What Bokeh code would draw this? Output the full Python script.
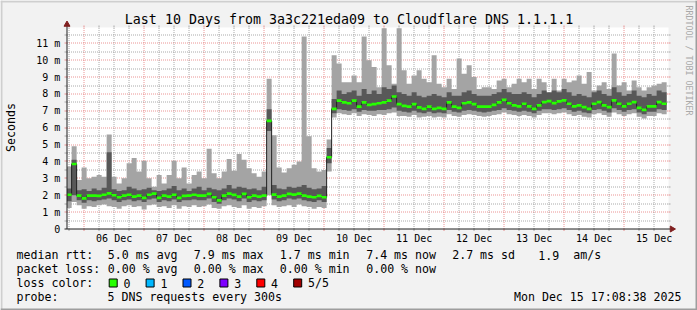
import numpy as np
from bokeh.plotting import figure
from bokeh.models import Range1d
from bokeh.core.properties import value
from bokeh.embed import file_html
from bokeh.resources import INLINE

# ---------------- data (milliseconds) ----------------
# 2-hour consolidated smokeping bins, first bin starts Dec 5 17:00
rtt_max = [
    3.7, 4.9, 2.9, 3.65, 3.0, 3.1, 3.2, 3.1, 5.6, 3.1,
    2.7, 3.0, 3.9, 4.2, 3.4, 4.05, 3.0, 2.5, 3.2, 2.7,
    3.2, 4.05, 3.0, 3.65, 2.7, 3.2, 3.4, 3.0, 4.75, 3.3,
    3.0, 3.4, 4.15, 3.45, 4.45, 4.1, 3.6, 3.3, 3.1, 3.4,
    8.9, 5.55, 3.65, 3.35, 3.6, 3.8, 4.0, 11.4, 5.5, 3.6,
    3.4, 3.5, 5.3, 10.3, 9.8, 8.7, 8.7, 9.1, 8.7, 11.4,
    10.0, 9.6, 8.4, 11.9, 9.7, 8.6, 11.9, 9.4, 8.6, 9.1,
    9.4, 8.9, 8.7, 10.3, 8.6, 8.4, 8.9, 8.3, 10.1, 9.2,
    9.7, 9.0, 8.3, 8.4, 8.4, 8.3, 8.8, 8.9, 8.4, 8.6,
    8.9, 8.7, 8.9, 8.3, 8.9, 8.7, 8.0, 8.9, 8.2, 8.9,
    8.7, 8.8, 9.1, 8.6, 9.3, 8.2, 8.5, 8.7, 8.3, 10.4,
    8.5, 8.7, 8.2, 8.8, 8.4, 8.2, 8.4, 8.5, 8.6, 8.7,
]
rtt_p4 = [
    2.4, 4.1, 2.3, 2.35, 2.25, 2.4, 2.3, 2.45, 4.55, 2.35,
    2.25, 2.3, 2.5, 2.4, 2.3, 2.35, 2.45, 2.3, 2.25, 2.3,
    2.4, 2.55, 2.3, 2.4, 2.25, 2.4, 2.5, 2.3, 2.45, 2.35,
    2.3, 2.4, 2.6, 2.4, 2.5, 2.45, 2.35, 2.4, 2.3, 2.5,
    7.1, 2.6, 2.4, 2.35, 2.5, 2.45, 2.5, 2.6, 2.45, 2.35,
    2.4, 2.55, 4.8, 7.7, 8.2, 8.0, 8.1, 8.2, 7.9, 8.3,
    8.0, 8.2, 8.0, 8.4, 8.3, 8.5, 8.1, 8.0, 7.9, 8.1,
    7.9, 7.8, 7.9, 8.0, 7.9, 7.8, 8.1, 7.9, 7.9, 8.1,
    8.2, 8.0, 7.9, 7.9, 7.9, 8.0, 8.1, 8.3, 8.1, 8.0,
    8.0, 8.1, 8.0, 7.8, 8.0, 8.2, 8.1, 8.2, 8.1, 8.3,
    8.1, 7.9, 8.0, 7.9, 7.8, 8.1, 8.2, 8.0, 7.9, 8.4,
    8.1, 7.9, 8.0, 8.2, 7.9, 7.8, 8.0, 7.9, 8.2, 8.1,
]
rtt_median = [
    2.03, 3.85, 1.98, 1.82, 1.98, 1.98, 1.96, 2.03, 2.11, 2.0,
    1.88, 1.98, 2.03, 1.92, 1.98, 1.84, 2.03, 2.1, 1.84, 1.98,
    1.92, 2.03, 1.84, 1.96, 1.98, 2.03, 1.98, 1.98, 2.08, 1.88,
    1.7, 1.98, 2.1, 2.02, 1.92, 2.08, 1.88, 1.98, 1.92, 1.98,
    6.4, 2.04, 1.92, 1.98, 2.08, 2.04, 2.1, 1.98, 1.92, 1.88,
    1.96, 1.88, 4.25, 7.12, 7.6, 7.5, 7.45, 7.6, 7.25, 7.5,
    7.35, 7.4, 7.45, 7.5, 7.6, 7.85, 7.4, 7.3, 7.25, 7.4,
    7.2, 7.12, 7.25, 7.12, 7.18, 7.12, 7.5, 7.25, 7.18, 7.45,
    7.5, 7.4, 7.25, 7.25, 7.25, 7.35, 7.5, 7.65, 7.45, 7.32,
    7.27, 7.42, 7.27, 7.12, 7.32, 7.52, 7.58, 7.46, 7.56, 7.62,
    7.42, 7.27, 7.32, 7.22, 7.12, 7.42, 7.52, 7.32, 7.22, 7.62,
    7.42, 7.27, 7.42, 7.52, 7.18, 7.06, 7.27, 7.27, 7.52, 7.42,
]
rtt_p2 = [
    1.65, 2.0, 1.7, 1.55, 1.7, 1.65, 1.7, 1.75, 1.8, 1.7,
    1.6, 1.7, 1.75, 1.65, 1.7, 1.6, 1.75, 1.8, 1.6, 1.7,
    1.65, 1.75, 1.6, 1.7, 1.7, 1.75, 1.7, 1.7, 1.8, 1.6,
    1.5, 1.7, 1.8, 1.75, 1.65, 1.8, 1.6, 1.7, 1.65, 1.7,
    5.8, 1.75, 1.65, 1.7, 1.8, 1.75, 1.8, 1.7, 1.65, 1.6,
    1.7, 1.6, 3.9, 6.85, 7.1, 7.05, 7.0, 7.1, 6.95, 7.05,
    7.0, 7.0, 7.05, 7.05, 7.1, 7.2, 7.0, 6.95, 6.9, 7.0,
    6.9, 6.85, 6.95, 6.85, 6.9, 6.85, 7.05, 6.95, 6.9, 7.0,
    7.05, 7.0, 6.95, 6.9, 6.95, 7.0, 7.05, 7.15, 7.05, 7.0,
    6.95, 7.0, 6.95, 6.85, 7.0, 7.1, 7.1, 7.05, 7.1, 7.15,
    7.05, 6.95, 7.0, 6.9, 6.85, 7.05, 7.1, 7.0, 6.9, 7.15,
    7.05, 6.95, 7.05, 7.1, 6.9, 6.8, 6.95, 6.95, 7.1, 7.05,
]
rtt_min = [
    1.25, 1.6, 1.4, 1.2, 1.35, 1.3, 1.4, 1.45, 1.35, 1.3,
    1.2, 1.35, 1.4, 1.3, 1.35, 1.15, 1.4, 1.45, 1.3, 1.35,
    1.25, 1.4, 1.2, 1.35, 1.3, 1.4, 1.3, 1.35, 1.45, 1.25,
    1.2, 1.35, 1.4, 1.3, 1.25, 1.4, 1.2, 1.3, 1.25, 1.35,
    2.0, 1.4, 1.3, 1.35, 1.4, 1.3, 1.45, 1.35, 1.3, 1.2,
    1.3, 1.25, 3.4, 6.6, 6.85, 6.8, 6.75, 6.85, 6.7, 6.8,
    6.75, 6.7, 6.8, 6.75, 6.85, 6.9, 6.7, 6.7, 6.65, 6.75,
    6.6, 6.65, 6.7, 6.6, 6.65, 6.6, 6.8, 6.7, 6.65, 6.75,
    6.8, 6.75, 6.7, 6.65, 6.7, 6.75, 6.8, 6.9, 6.8, 6.75,
    6.7, 6.75, 6.7, 6.6, 6.75, 6.85, 6.85, 6.8, 6.85, 6.9,
    6.8, 6.7, 6.75, 6.65, 6.6, 6.8, 6.85, 6.75, 6.65, 6.9,
    6.8, 6.7, 6.8, 6.85, 6.65, 6.55, 6.7, 6.7, 6.85, 6.8,
]

title_text = "Last 10 Days from 3a3c221eda09 to Cloudflare DNS 1.1.1.1"
day_ticks = [6.5, 7.5, 8.5, 9.5, 10.5, 11.5, 12.5, 13.5, 14.5, 15.5]
day_labels = ["06 Dec", "07 Dec", "08 Dec", "09 Dec", "10 Dec",
              "11 Dec", "12 Dec", "13 Dec", "14 Dec", "15 Dec"]
y_ticks = list(range(12))
y_labels = ["0"] + [f"{v} m" for v in range(1, 12)]

rtt_stats = ["5.0 ms avg", "7.9 ms max", "1.7 ms min", "7.4 ms now", "2.7 ms sd", "1.9", "am/s"]
loss_stats = ["0.00 % avg", "0.00 % max", "0.00 % min", "0.00 % now"]
loss_labels = ["0", "1", "2", "3", "4", "5/5"]
loss_colors = ["#26ff00", "#00b8ff", "#0059ff", "#7e00ff", "#ff0000", "#a10000"]
probe_text = "5 DNS requests every 300s"
stamp_text = "Mon Dec 15 17:08:38 2025"
watermark = "RRDTOOL / TOBI OETIKER"

# ---------------- geometry (frame = whole canvas) ----------------
W, H = 697, 310
AX_PX, AY_PX = 66.5, 228.5                  # axis lines (px)
PX_PER_DAY, PX_PER_MS = 60.0, 16.88
graph_start = 5 + (17 + 8 / 60 + 38 / 3600) / 24   # Dec 5 17:08:38
graph_end = graph_start + 10
first_bin = 5 + 17 / 24
bin_days = 2 / 24

x0 = graph_start - AX_PX / PX_PER_DAY
x1 = x0 + W / PX_PER_DAY
y0 = -(H - AY_PX) / PX_PER_MS
y1 = y0 + H / PX_PER_MS


def X(px):
    return x0 + px / PX_PER_DAY


def Y(py):
    return y0 + (H - py) / PX_PER_MS


def px_of_x(t):
    return (t - x0) * PX_PER_DAY


def py_of_y(v):
    return H - (v - y0) * PX_PER_MS


p = figure(width=W, height=H, x_range=Range1d(x0, x1), y_range=Range1d(y0, y1),
           output_backend="svg", toolbar_location=None,
           x_axis_location=None, y_axis_location=None,
           min_border=0, min_border_left=0, min_border_right=0,
           min_border_top=0, min_border_bottom=0)
p.background_fill_color = "#f2f2f2"
p.border_fill_color = "#f2f2f2"
p.outline_line_color = None
p.grid.visible = False

canvas_right = X(668)
canvas_top = Y(27)
p.quad(left=[graph_start], right=[canvas_right], bottom=[0], top=[canvas_top],
       fill_color="#ffffff", line_color=None)


def snap_x(t):
    return X(np.floor(px_of_x(t)) + 0.5)


def snap_y(v):
    return Y(np.floor(py_of_y(v)) + 0.5)


quarter = np.arange(np.ceil(graph_start * 4) / 4, graph_end, 0.25)
minor_x = [snap_x(t) for t in quarter if abs(t - round(t)) > 1e-9]
major_x = [snap_x(t) for t in quarter if abs(t - round(t)) < 1e-9]
minor_y = [snap_y(v + 0.5) for v in range(0, 12)]
major_y = [snap_y(v) for v in range(1, 12)]
GRID, MGRID = "#8f8f8f", "#de4f4f"


def vgrid(xs_, color, alpha):
    k = len(xs_)
    p.segment(x0=xs_, y0=[0] * k, x1=xs_, y1=[canvas_top] * k,
              line_color=color, line_alpha=alpha, line_width=1, line_dash="1 1")
    p.segment(x0=xs_, y0=[Y(AY_PX)] * k, x1=xs_, y1=[Y(AY_PX + 2)] * k,
              line_color=color, line_alpha=alpha, line_width=1)
    p.segment(x0=xs_, y0=[canvas_top] * k, x1=xs_, y1=[Y(25)] * k,
              line_color=color, line_alpha=alpha, line_width=1)


def hgrid(ys_, color, alpha):
    k = len(ys_)
    p.segment(x0=[graph_start] * k, y0=ys_, x1=[canvas_right] * k, y1=ys_,
              line_color=color, line_alpha=alpha, line_width=1, line_dash="1 1")
    p.segment(x0=[X(AX_PX - 2.5)] * k, y0=ys_, x1=[graph_start] * k, y1=ys_,
              line_color=color, line_alpha=alpha, line_width=1)
    p.segment(x0=[canvas_right] * k, y0=ys_, x1=[X(670)] * k, y1=ys_,
              line_color=color, line_alpha=alpha, line_width=1)


vgrid(minor_x, GRID, 0.75)
hgrid(minor_y, GRID, 0.75)
vgrid(major_x, MGRID, 0.6)
hgrid(major_y, MGRID, 0.6)

# smoke (smokeping: light = min..max, dark = 2nd..4th ping)
n = len(rtt_median)
lefts = first_bin + np.arange(n) * bin_days
xs = np.clip(np.column_stack([lefts, lefts + bin_days]).ravel(), graph_start, None)


def steps(v):
    return np.repeat(np.asarray(v, dtype=float), 2)


p.varea(x=xs, y1=steps(rtt_min), y2=steps(rtt_max), fill_color="#a4a4a4")
p.varea(x=xs, y1=steps(rtt_p2), y2=steps(rtt_p4), fill_color="#585858")
p.line(x=xs, y=steps(rtt_median), line_color="#202020", line_width=1)
half = 1.35 / PX_PER_MS
p.varea(x=xs, y1=steps(rtt_median) - half, y2=steps(rtt_median) + half, fill_color=loss_colors[0])

# axis lines and arrows
p.segment(x0=[graph_start], y0=[0], x1=[graph_start], y1=[Y(25)], line_color="#1f1f1f", line_width=1)
p.segment(x0=[X(AX_PX - 2.5)], y0=[0], x1=[X(670)], y1=[0], line_color="#1f1f1f", line_width=1)
p.scatter(x=[graph_start], y=[Y(24)], marker="triangle", size=6, fill_color="#801f1f", line_color="#801f1f")
p.scatter(x=[X(671.5)], y=[0], marker="triangle", size=6, angle=-np.pi / 2,
          fill_color="#801f1f", line_color="#801f1f")

MONO = value("DejaVu Sans Mono")


def txt(texts, xs_, ys_, size, align="left", angle=0.0, color="#000000"):
    p.text(x=xs_, y=ys_, text=texts, text_font=MONO, text_font_size=value(f"{size}px"),
           text_align=align, text_baseline="middle", angle=angle, text_color=color)


# tick labels
txt(day_labels, day_ticks, [Y(237.7)] * len(day_ticks), 10, "center")
txt(y_labels, [X(59.8)] * len(y_ticks), y_ticks, 10, "right")

# titles
txt([title_text], [X(348.5)], [Y(18.5)], 13.3, "center")
txt(["Seconds"], [X(10)], [Y(127)], 11.6, "center", angle=np.pi / 2)
txt([watermark], [X(688.5)], [Y(60)], 8.3, "center", angle=-np.pi / 2, color="#a9a9a9")

# legend
LEG = 11.6
row_y = [254.7, 268.3, 282.5, 296.0]
txt(["median rtt:"] + rtt_stats,
    [X(px) for px in [16, 107.3, 193.3, 279.3, 365.7, 451.7, 537.7, 572.7]],
    [Y(row_y[0])] * 8, LEG)
txt(["packet loss:"] + loss_stats,
    [X(px) for px in [16, 107.3, 193.3, 279.3, 365.7]],
    [Y(row_y[1])] * 5, LEG)
sq_left = [108.7 + 36.9 * i for i in range(len(loss_labels))]
p.quad(left=[X(s) for s in sq_left], right=[X(s + 8) for s in sq_left],
       bottom=[Y(row_y[2] + 4)] * 6, top=[Y(row_y[2] - 4)] * 6,
       fill_color=loss_colors, line_color="#000000", line_width=1)
txt(["loss color:"] + loss_labels,
    [X(16)] + [X(s + 14.3) for s in sq_left],
    [Y(row_y[2])] * 7, LEG)
txt(["probe:", probe_text], [X(16), X(107)], [Y(row_y[3])] * 2, LEG)
txt([stamp_text], [X(681)], [Y(row_y[3])], LEG, "right")

# 3D border
p.quad(left=[X(0), X(0)], right=[X(697), X(2)], bottom=[Y(2), Y(310)], top=[Y(0), Y(0)],
       fill_color="#cfcfcf", line_color=None)
p.quad(left=[X(695), X(0)], right=[X(697), X(697)], bottom=[Y(310), Y(310)], top=[Y(0), Y(308)],
       fill_color="#9e9e9e", line_color=None)

open("out.html", "w").write(file_html(p, INLINE))
